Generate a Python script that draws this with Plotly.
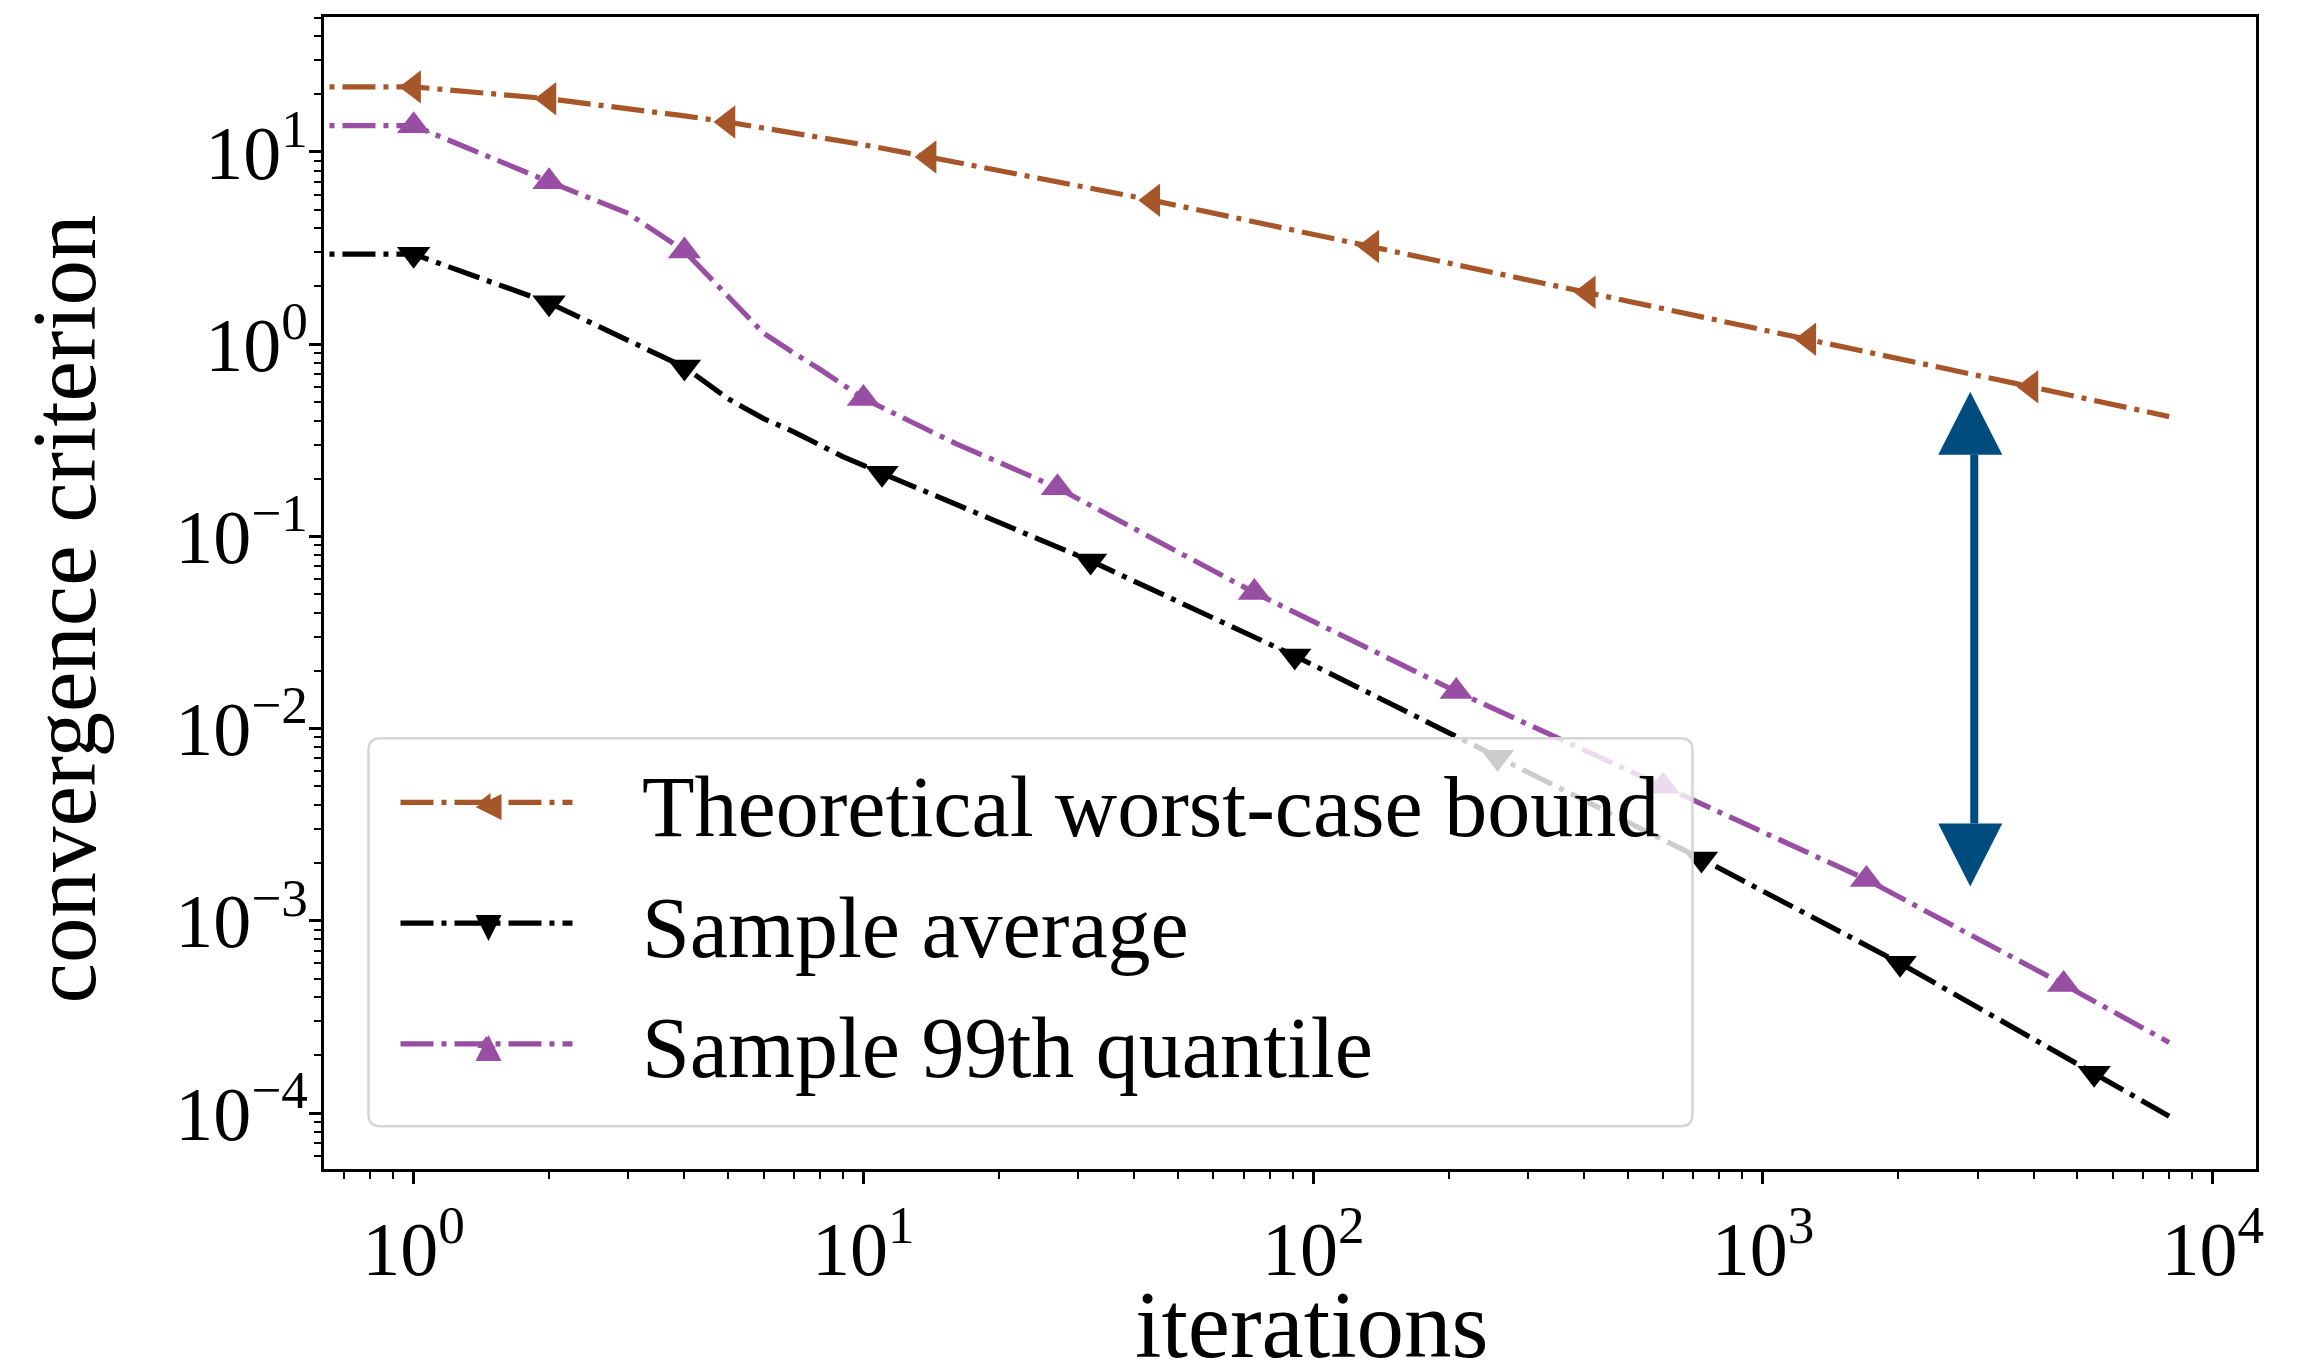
import numpy as np
import plotly.graph_objects as go

# ---------------- data ----------------
# Theoretical worst-case bound
bound_iter = [0, 1, 2, 3, 4, 5, 7, 10, 14, 20, 30, 44, 70, 100, 135, 200, 300, 409,
              600, 900, 1265, 2000, 3000, 3945, 8000]
bound_vals = [21.8, 21.8, 18.9, 16.9, 15.4, 14.3, 12.6, 10.9, 9.4, 8.0, 6.65, 5.6, 4.45,
              3.73, 3.22, 2.65, 2.17, 1.86, 1.54, 1.25, 1.06, 0.84, 0.69, 0.60, 0.42]
bound_marks = [1, 2, 5, 14, 44, 135, 409, 1265, 3945]

# Sample average
avg_iter = [0, 1, 2, 3, 4, 5, 6, 7, 8, 9, 11, 32, 91, 257, 730, 2018, 5448, 8000]
avg_vals = [2.94, 2.94, 1.64, 1.05, 0.76, 0.52, 0.41, 0.35, 0.30, 0.26, 0.213, 0.0745,
            0.0239, 0.0071, 0.0021, 0.000602, 0.000161, 0.0000963]
avg_marks = [1, 2, 4, 11, 32, 91, 257, 730, 2018, 5448]

# Sample 99th quantile
q99_iter = [0, 1, 2, 3, 4, 5, 6, 7, 8, 10, 16, 27, 74, 208, 600, 1698, 4660, 8000]
q99_vals = [13.7, 13.7, 7.0, 4.79, 3.05, 1.78, 1.14, 0.90, 0.74, 0.522, 0.305, 0.179,
            0.051, 0.0156, 0.00502, 0.00164, 0.000467, 0.000233]
q99_marks = [1, 2, 4, 10, 27, 74, 208, 600, 1698, 4660]

series_names = ["Theoretical worst-case bound", "Sample average", "Sample 99th quantile"]
x_title = "iterations"
y_title = "convergence criterion"

# double-headed arrow annotation (data coordinates)
arrow_x = 2890
arrow_top = 0.565
arrow_bottom = 0.00151

x_tick_vals = [1, 10, 100, 1000, 10000]
x_tick_text = ["10<sup>0</sup>", "10<sup>1</sup>", "10<sup>2</sup>", "10<sup>3</sup>", "10<sup>4</sup>"]
y_tick_vals = [1e-4, 1e-3, 1e-2, 1e-1, 1, 10]
y_tick_text = ["10<sup>\u22124</sup>", "10<sup>\u22123</sup>", "10<sup>\u22122</sup>",
               "10<sup>\u22121</sup>", "10<sup>0</sup>", "10<sup>1</sup>"]

# ---------------- style / layout ----------------
W, H = 2306, 1362
ML, MR, MT, MB = 324, 50, 17, 193
XR = [-0.1993, 4.0962]
YR = [-4.291, 1.702]
FONT = "Liberation Serif"

colors = ["#a65628", "#000000", "#984ea3"]
symbols = ["triangle-left", "triangle-down", "triangle-up"]
DASH = "33px,8px,5px,8px"
LW = 5.2
MS = 29
ARROW_COLOR = "#004c7f"
NBSP = "\u00a0"

def clip_x(xs):
    # matplotlib-like clipping of non-positive values on a log axis
    return [x if x > 0 else 10 ** (XR[0] - 2) for x in xs]

fig = go.Figure()
data = [(bound_iter, bound_vals, bound_marks),
        (avg_iter, avg_vals, avg_marks),
        (q99_iter, q99_vals, q99_marks)]
for i, (xs, ys, marks) in enumerate(data):
    lookup = dict(zip(xs, ys))
    fig.add_trace(go.Scatter(
        x=clip_x(xs), y=ys, mode="lines",
        line=dict(color=colors[i], width=LW, dash=DASH),
        showlegend=False, legendgroup=f"g{i}", hoverinfo="skip"))
    fig.add_trace(go.Scatter(
        x=marks, y=[lookup[m] for m in marks], mode="markers",
        marker=dict(symbol=symbols[i], size=MS, color=colors[i], line=dict(width=0)),
        showlegend=False, legendgroup=f"g{i}"))
    # legend entry
    fig.add_trace(go.Scatter(
        x=[None], y=[None], mode="lines+markers", name=NBSP * 3 + series_names[i],
        line=dict(color=colors[i], width=LW, dash=DASH),
        marker=dict(symbol=symbols[i], size=MS, color=colors[i], line=dict(width=0)),
        legendgroup=f"g{i}"))

# arrow shapes
plot_h = H - MT - MB
plot_w = W - ML - MR
decade_px = plot_h / (YR[1] - YR[0])
HEAD_H, HEAD_HW, SHAFT_HW = 63, 32, 8
top_base = arrow_top * 10 ** (-HEAD_H / decade_px)
bot_base = arrow_bottom * 10 ** (HEAD_H / decade_px)

# legend frame (pixels relative to the bottom-left corner of the plot area)
BX0, BX1, BY0, BY1, R = 44.5, 1368.5, 42.8, 430.8, 12
frame_path = (f"M{BX0 + R},{BY0} L{BX1 - R},{BY0} Q{BX1},{BY0} {BX1},{BY0 + R} "
              f"L{BX1},{BY1 - R} Q{BX1},{BY1} {BX1 - R},{BY1} "
              f"L{BX0 + R},{BY1} Q{BX0},{BY1} {BX0},{BY1 - R} "
              f"L{BX0},{BY0 + R} Q{BX0},{BY0} {BX0 + R},{BY0} Z")

# enlarged legend symbols (matplotlib-style triangles)
LEG_CX = 164.5
LEG_CY = [362, 241, 121]
T = 13
def tri_path(kind, cx, cy):
    if kind == "triangle-left":
        return f"M{cx - T},{cy} L{cx + T},{cy + T} L{cx + T},{cy - T} Z"
    if kind == "triangle-down":
        return f"M{cx},{cy - T} L{cx - T},{cy + T} L{cx + T},{cy + T} Z"
    return f"M{cx},{cy + T} L{cx - T},{cy - T} L{cx + T},{cy - T} Z"

shapes = [
    dict(type="rect", xref="x", yref="y", xsizemode="pixel", xanchor=arrow_x,
         x0=-SHAFT_HW, x1=SHAFT_HW, y0=bot_base, y1=top_base,
         fillcolor=ARROW_COLOR, line=dict(width=0)),
    dict(type="path", xref="x", yref="y", xsizemode="pixel", ysizemode="pixel",
         xanchor=arrow_x, yanchor=arrow_top,
         path=f"M0,0 L{HEAD_HW},-{HEAD_H} L-{HEAD_HW},-{HEAD_H} Z",
         fillcolor=ARROW_COLOR, line=dict(width=0)),
    dict(type="path", xref="x", yref="y", xsizemode="pixel", ysizemode="pixel",
         xanchor=arrow_x, yanchor=arrow_bottom,
         path=f"M0,0 L{HEAD_HW},{HEAD_H} L-{HEAD_HW},{HEAD_H} Z",
         fillcolor=ARROW_COLOR, line=dict(width=0)),
    dict(type="path", xref="paper", yref="paper", xsizemode="pixel", ysizemode="pixel",
         xanchor=0, yanchor=0, path=frame_path,
         fillcolor="rgba(255,255,255,0.8)", line=dict(color="#d6d6d6", width=2.6)),
]
for i in range(3):
    shapes.append(dict(type="path", xref="paper", yref="paper", xsizemode="pixel",
                       ysizemode="pixel", xanchor=0, yanchor=0,
                       path=tri_path(symbols[i], LEG_CX, LEG_CY[i]),
                       fillcolor=colors[i], line=dict(width=0)))

# axis titles as annotations (placed like the reference)
XT_CENTER_PX = 1311.5          # horizontal centre of x title (figure px)
XT_BASELINE_PX = 1355          # baseline of x title (figure px)
YT_CENTER_PX = 609             # vertical centre of y title (figure px)
YT_BOXCENTER_PX = 63.5         # horizontal centre of y title box (figure px)
XT_SIZE, YT_SIZE = 95, 91
annotations = [
    dict(text=x_title, xref="paper", yref="paper",
         x=(XT_CENTER_PX - ML) / plot_w, y=0, xanchor="center", yanchor="top",
         yshift=-(XT_BASELINE_PX - 0.9 * XT_SIZE - (H - MB)),
         showarrow=False, font=dict(family=FONT, size=XT_SIZE, color="black")),
    dict(text=y_title, xref="paper", yref="paper", textangle=-90,
         x=0, y=(H - MB - YT_CENTER_PX) / plot_h, xanchor="center", yanchor="middle",
         xshift=YT_BOXCENTER_PX - ML,
         showarrow=False, font=dict(family=FONT, size=YT_SIZE, color="black")),
]

minor_x = [m * 10 ** e for e in range(-1, 4) for m in range(2, 10)]
minor_y = [m * 10 ** e for e in range(-5, 2) for m in range(2, 10)]

axis_common = dict(
    type="log", showline=True, linecolor="black", linewidth=2.8, mirror=True,
    ticks="outside", ticklen=12, tickwidth=2.6, tickcolor="black",
    showgrid=False, zeroline=False, automargin=False,
    tickfont=dict(family=FONT, size=76, color="black"),
)

fig.update_layout(
    width=W, height=H,
    margin=dict(l=ML, r=MR, t=MT, b=MB, pad=0),
    paper_bgcolor="white", plot_bgcolor="white",
    font=dict(family=FONT, color="black"),
    xaxis=dict(axis_common, range=XR, tickmode="array", tickvals=x_tick_vals,
               ticktext=x_tick_text,
               minor=dict(ticks="outside", ticklen=7, tickwidth=2, tickcolor="black",
                          tickmode="array", tickvals=minor_x, showgrid=False)),
    yaxis=dict(axis_common, range=YR, tickmode="array", tickvals=y_tick_vals,
               ticktext=y_tick_text, ticklabelstandoff=-14,
               minor=dict(ticks="outside", ticklen=7, tickwidth=2, tickcolor="black",
                          tickmode="array", tickvals=minor_y, showgrid=False)),
    legend=dict(x=0.037, y=0.3725, xanchor="left", yanchor="top",
                bgcolor="rgba(0,0,0,0)", borderwidth=0,
                font=dict(family=FONT, size=86, color="black"),
                itemwidth=172, tracegroupgap=6),
    shapes=shapes,
    annotations=annotations,
    showlegend=True,
)

fig.write_html("out.html")
